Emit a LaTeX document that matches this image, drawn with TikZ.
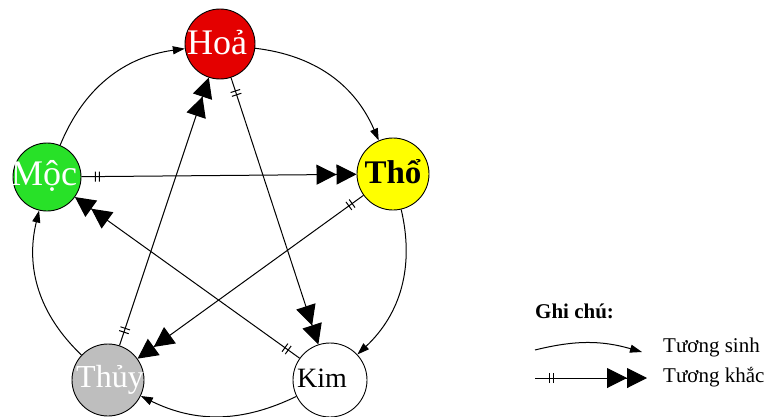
\documentclass[tikz,border=0pt]{standalone}
\usepackage{fontspec}
\setmainfont{Liberation Serif}
\usetikzlibrary{arrows.meta,decorations.markings}
\definecolor{hoared}{RGB}{228,0,0}
\definecolor{mocgreen}{RGB}{40,225,40}
\definecolor{thoyellow}{RGB}{255,255,0}
\definecolor{thuygray}{RGB}{190,190,190}
\begin{document}
\begin{tikzpicture}[x=1pt,y=1pt,
  elem/.style={circle,draw=black,line width=0.9pt,inner sep=0pt},
  elemtext/.style={anchor=base,inner sep=0pt},
  sinh/.style={line width=1pt,-{Triangle[length=12pt,width=8pt]}},
  khac/.style={line width=1pt,-{Triangle[length=20pt,width=20pt] Triangle[length=20pt,width=20pt]},
    postaction={decorate},decoration={markings,
      mark=at position 14pt with {\draw[line width=1pt,arrows=-] (0,-5pt)--(0,5pt);},
      mark=at position 18pt with {\draw[line width=1pt,arrows=-] (0,-5pt)--(0,5pt);}}},
  legtext/.style={anchor=base west,inner sep=0pt,font=\fontsize{21}{21}\selectfont}
  ]
\useasboundingbox (0,0) rectangle (770,416);
% elements
\node[elem,fill=hoared,minimum size=70pt] (hoa) at (220,372) {};
\node[elem,fill=mocgreen,minimum size=68pt] (moc) at (47,239) {};
\node[elem,fill=thoyellow,minimum size=72pt] (tho) at (393,242) {};
\node[elem,fill=thuygray,minimum size=72pt] (thuy) at (108,36) {};
\node[elem,fill=white,minimum size=74pt] (kim) at (330,36) {};
% sinh cycle
\draw[sinh] (moc) to[bend left=30] (hoa);
\draw[sinh] (hoa) to[bend left=30] (tho);
\draw[sinh] (tho) to[bend left=30] (kim);
\draw[sinh] (kim) to[bend left=26] (thuy);
\draw[sinh] (thuy) to[bend left=30] (moc);
% khac
\draw[khac] (moc) -- (tho);
\draw[khac] (tho) -- (thuy);
\draw[khac] (thuy) -- (hoa);
\draw[khac] (hoa) -- (kim);
\draw[khac] (kim) -- (moc);
% labels
\node[elemtext,text=white,font=\fontsize{36}{36}\selectfont] (hoat) at (217,361) {Hoả};
\node[elemtext,text=white,font=\fontsize{36}{36}\selectfont] (moct) at (44,231) {Mộc};
\node[elemtext,text=black,font=\bfseries\fontsize{33}{33}\selectfont] (thot) at (393,233) {Thổ};
\node[elemtext,text=white,font=\fontsize{32}{32}\selectfont] (thuyt) at (110,29) {Thủy};
\node[elemtext,text=black,font=\fontsize{28}{28}\selectfont] (kimt) at (322,29) {Kim};
% legend
\node[legtext,font=\bfseries\fontsize{21}{21}\selectfont] (ghichu) at (535,98) {Ghi chú:};
\coordinate (lsa) at (535,66);
\coordinate (lsb) at (642,64);
\draw[sinh] (lsa) to[bend left=15] (lsb);
\node[legtext] (lsinh) at (663,64) {Tương sinh};
\coordinate (lka) at (535,38);
\coordinate (lkb) at (647,38);
\draw[khac] (lka) -- (lkb);
\node[legtext] (lkhac) at (663,34) {Tương khắc};
\end{tikzpicture}
\end{document}
